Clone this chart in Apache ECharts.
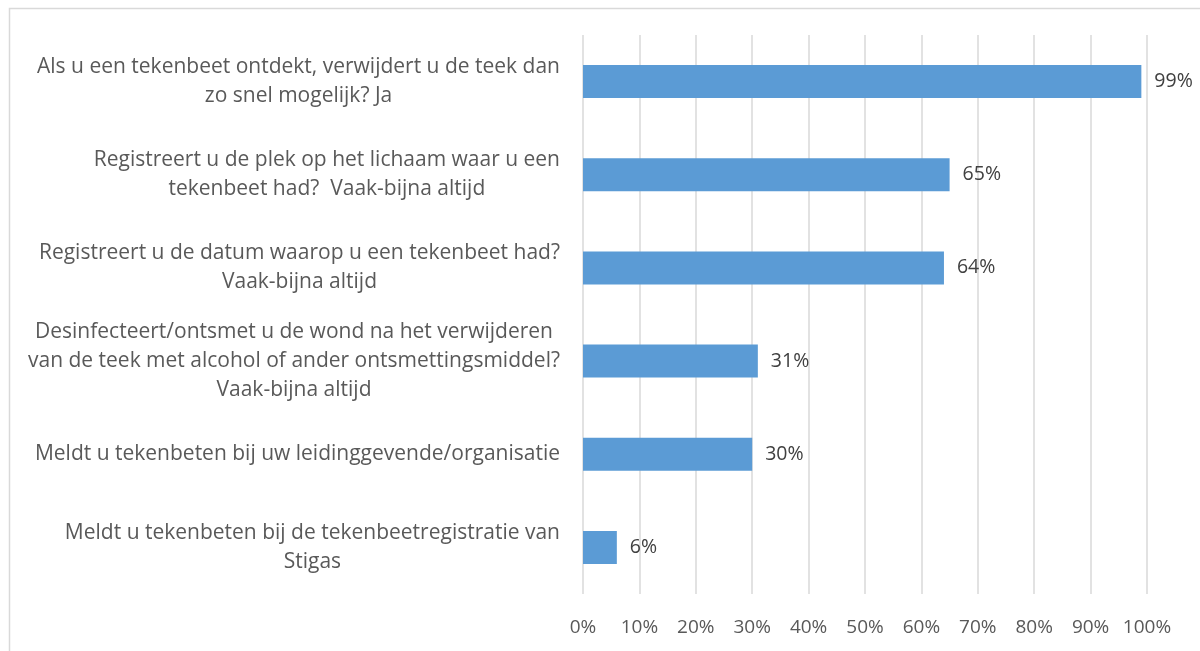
<!DOCTYPE html>
<html>
<head>
<meta charset="utf-8">
<script src="https://cdn.jsdelivr.net/npm/echarts@6/dist/echarts.min.js"></script>
<style>
    html, body { margin: 0; padding: 0; background: #fff; }
    #chart { width: 1200px; height: 651px; }
</style>
</head>
<body>
<div id="chart"></div>
<script>
// vragen (van boven naar beneden)
const categories = [
    'Als u een tekenbeet ontdekt, verwijdert u de teek dan\nzo snel mogelijk? Ja',
    'Registreert u de plek op het lichaam waar u een\ntekenbeet had?  Vaak-bijna altijd',
    'Registreert u de datum waarop u een tekenbeet had?\nVaak-bijna altijd',
    'Desinfecteert/ontsmet u de wond na het verwijderen\nvan de teek met alcohol of ander ontsmettingsmiddel?\nVaak-bijna altijd',
    'Meldt u tekenbeten bij uw leidinggevende/organisatie',
    'Meldt u tekenbeten bij de tekenbeetregistratie van\nStigas'
]
// percentages
const values = [99, 65, 64, 31, 30, 6]
// x-as ticks
const xTicks = [0, 10, 20, 30, 40, 50, 60, 70, 80, 90, 100]

const font = 'Open Sans'
const textColor = '#595959'

const chart = echarts.init(document.getElementById('chart'))

const option = {
    animation: false,
    backgroundColor: '#fff',
    graphic: [{
        type: 'rect',
        left: 7,
        top: 6,
        shape: { width: 1300, height: 700 },
        style: { fill: 'none', stroke: '#d9d9d9', lineWidth: 1.5 },
        silent: true
    }],
    grid: {
        left: 583,
        right: 53,
        top: 35,
        bottom: 57
    },
    xAxis: {
        type: 'value',
        min: xTicks[0],
        max: xTicks[xTicks.length - 1],
        interval: 10,
        axisLine: { show: false },
        axisTick: { show: false },
        splitLine: { lineStyle: { color: '#d9d9d9', width: 1.5 } },
        axisLabel: {
            margin: 24,
            color: textColor,
            fontFamily: font,
            fontSize: 19,
            formatter: '{value}%'
        }
    },
    yAxis: {
        type: 'category',
        inverse: true,
        data: categories,
        axisLine: { show: false },
        axisTick: { show: false },
        axisLabel: {
            margin: 23,
            align: 'right',
            formatter: function (val) {
                // elke regel centreren binnen het labelblok
                return val.split('\n').map(function (l) { return '{c|' + l + '}' }).join('\n')
            },
            rich: {
                c: {
                    align: 'center',
                    color: textColor,
                    fontFamily: font,
                    fontSize: 21,
                    lineHeight: 29
                }
            }
        }
    },
    series: [{
        type: 'bar',
        data: values,
        barWidth: 33,
        itemStyle: { color: '#5b9bd5' },
        label: {
            show: true,
            position: 'right',
            distance: 13,
            color: '#404040',
            fontFamily: font,
            fontSize: 19.5,
            formatter: '{c}%'
        }
    }]
}

chart.setOption(option)
</script>
</body>
</html>
